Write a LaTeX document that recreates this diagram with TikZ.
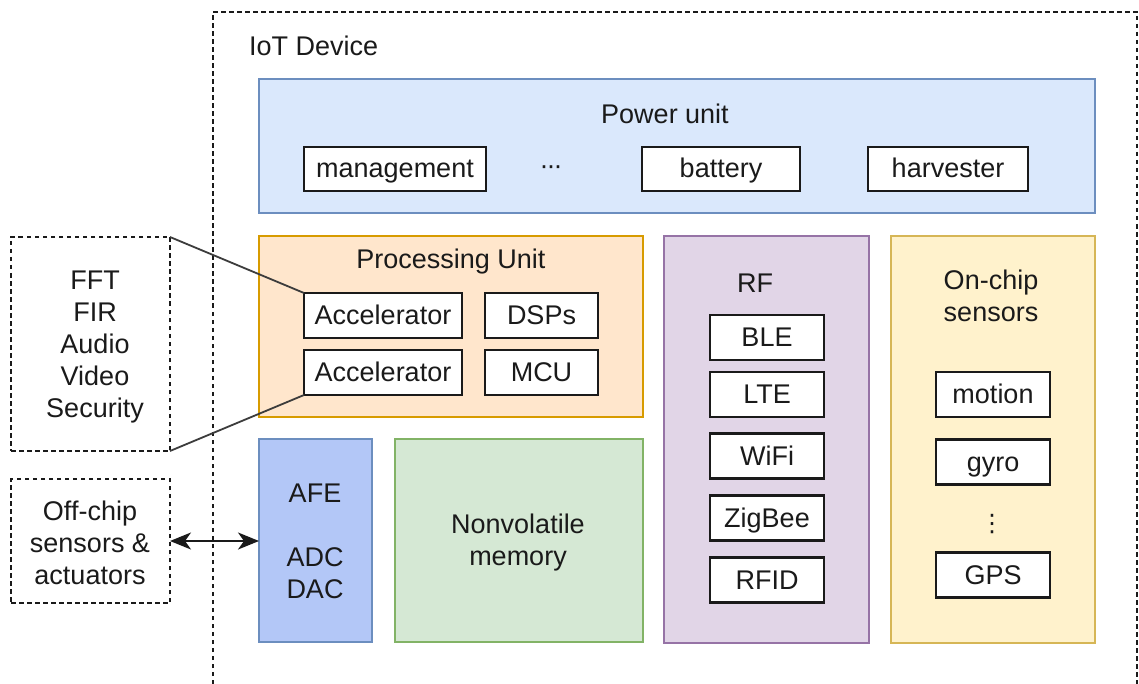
\documentclass[tikz,border=0pt]{standalone}
\usepackage{fontspec}
\setmainfont{Liberation Sans}
\newfontfamily\dejavu{DejaVu Sans}
\usetikzlibrary{arrows.meta}
\definecolor{pwrfill}{HTML}{DAE8FC}\definecolor{pwrline}{HTML}{6C8EBF}
\definecolor{procfill}{HTML}{FFE6CC}\definecolor{procline}{HTML}{D79B00}
\definecolor{rffill}{HTML}{E1D5E7}\definecolor{rfline}{HTML}{9673A6}
\definecolor{senfill}{HTML}{FFF2CC}\definecolor{senline}{HTML}{D6B656}
\definecolor{memfill}{HTML}{D5E8D4}\definecolor{memline}{HTML}{82B366}
\definecolor{afefill}{HTML}{B3C7F7}
\definecolor{ink}{HTML}{1A1A1A}
\tikzset{
  unitbox/.style={draw, line width=1.6pt, inner sep=0pt, outer sep=0pt, anchor=north west},
  itembox/.style={draw=ink, fill=white, line width=2.3pt, inner sep=0pt, outer sep=0pt, minimum height=45pt, text height=24pt, text depth=6pt, text=ink},
  dashbox/.style={draw=ink, line width=1.6pt, dash pattern=on 4.5pt off 3.5pt, inner sep=0pt, outer sep=0pt, anchor=north west},
  lbl/.style={inner sep=0pt, text=ink, align=center},
  biarrow/.style={draw=ink, line width=2pt, {Stealth[length=21pt,width=17pt,inset=6pt]}-{Stealth[length=21pt,width=17pt,inset=6pt]}},
}
\begin{document}
\begin{tikzpicture}[x=1pt,y=-1pt,font=\fontsize{27}{32}\selectfont]
\useasboundingbox (0,0) rectangle (1139,684);
\fill[white] (0,0) rectangle (1139,684);
\clip (0,0) rectangle (1139,684);
% IoT device outline
\coordinate (iotbl) at (213,700);
\coordinate (iotbr) at (1137,700);
\draw[draw=ink, line width=1.6pt, dash pattern=on 4.5pt off 3.5pt] (iotbl) |- (1137,12) -- (iotbr);
\node[lbl, anchor=west] (iot) at (249,46) {IoT Device};
% Power unit
\node[unitbox, fill=pwrfill, draw=pwrline, minimum width=836pt, minimum height=134pt] (power) at (259,79) {};
\node[lbl] (powert) at (665,114) {Power unit};
\node[itembox, minimum width=182pt, minimum height=44pt] (mgmt) at (395,169) {management};
\node[lbl, anchor=base] (pdots) at (551,175) {\textperiodcentered\kern-2pt\textperiodcentered\kern-2pt\textperiodcentered};
\node[itembox, minimum width=158pt, minimum height=44pt] (batt) at (721,169) {battery};
\node[itembox, minimum width=160pt, minimum height=44pt] (harv) at (948,169) {harvester};
% Processing unit
\node[unitbox, fill=procfill, draw=procline, minimum width=384pt, minimum height=181pt] (proc) at (259,236) {};
\node[lbl] (proct) at (451,262) {Processing Unit};
\node[itembox, minimum width=158pt] (acca) at (383,315.5) {Accelerator};
\node[itembox, minimum width=113pt] (dsp) at (541.5,315.5) {DSPs};
\node[itembox, minimum width=158pt] (accb) at (383,372.5) {Accelerator};
\node[itembox, minimum width=113pt] (mcu) at (541.5,372.5) {MCU};
% RF
\node[unitbox, fill=rffill, draw=rfline, minimum width=205pt, minimum height=407pt] (rf) at (664,236) {};
\node[lbl] (rft) at (755,283) {RF};
\node[itembox, minimum width=114pt] (ble) at (767,337.5) {BLE};
\node[itembox, minimum width=114pt] (lte) at (767,394.5) {LTE};
\node[itembox, minimum width=114pt] (wifi) at (767,456) {WiFi};
\node[itembox, minimum width=114pt] (zig) at (767,518) {ZigBee};
\node[itembox, minimum width=114pt] (rfid) at (767,580) {RFID};
% On-chip sensors
\node[unitbox, fill=senfill, draw=senline, minimum width=204pt, minimum height=407pt] (sens) at (891,236) {};
\node[lbl] (senst) at (991,296) {On-chip\\sensors};
\node[itembox, minimum width=114pt] (motion) at (993,394.5) {motion};
\node[itembox, minimum width=114pt] (gyro) at (993,462) {gyro};
\node[lbl] (sdots) at (992,524.5) {\dejavu\fontsize{24}{24}\selectfont ⋮};
\node[itembox, minimum width=114pt] (gps) at (993,575) {GPS};
% AFE
\node[unitbox, fill=afefill, draw=pwrline, minimum width=113pt, minimum height=203pt] (afe) at (259,439) {};
\node[lbl] (afet) at (315,493) {AFE};
\node[lbl] (adct) at (315,573) {ADC\\DAC};
% Memory
\node[unitbox, fill=memfill, draw=memline, minimum width=248pt, minimum height=203pt] (mem) at (395,439) {};
\node[lbl] (memt) at (518,543) {Nonvolatile\\memory};
% External dashed boxes
\node[dashbox, minimum width=159pt, minimum height=214pt] (fft) at (11,237) {};
\node[lbl] (fftt) at (95,347) {FFT\\FIR\\Audio\\Video\\Security};
\node[dashbox, minimum width=159pt, minimum height=124pt] (off) at (11,479) {};
\node[lbl] (offt) at (90,543) {Off-chip\\sensors \&\\actuators};
% connectors
\draw[draw=ink!85, line width=1.8pt] (fft.north east) -- (acca.north west);
\draw[draw=ink!85, line width=1.8pt] (fft.south east) -- (accb.south west);
\draw[biarrow] (off.east) -- (off.east -| afe.west);
\end{tikzpicture}
\end{document}
